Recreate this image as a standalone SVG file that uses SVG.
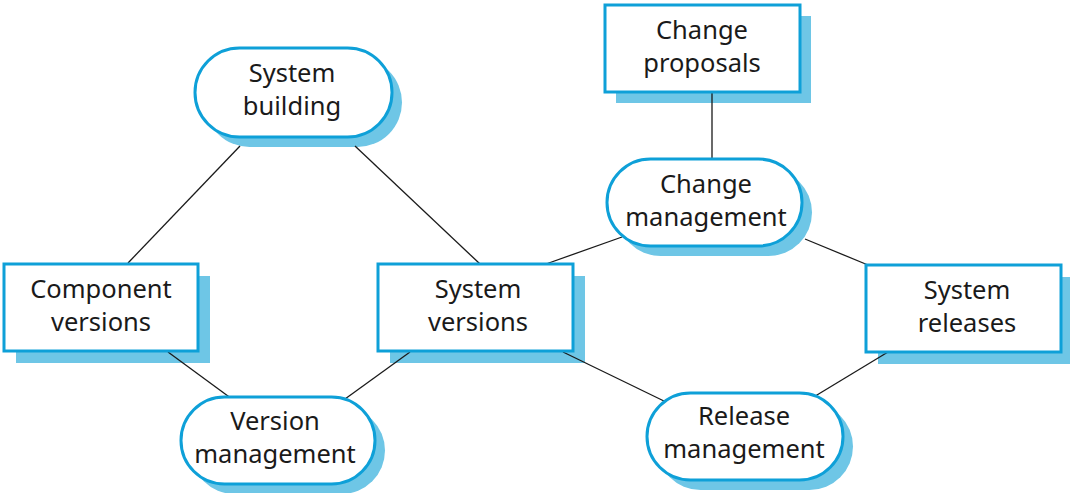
<svg xmlns="http://www.w3.org/2000/svg" width="1070" height="493" viewBox="0 0 1070 493">
<style>
.sh{fill:#6ec6e6}
.bx{fill:#fff;stroke:#0ea0d8;stroke-width:3}
.t{font-family:"Noto Sans","Open Sans",sans-serif;font-size:25.5px;fill:#1a1a1a;text-anchor:middle}
.c line{stroke:#1a1a1a;stroke-width:1.3}
</style>
<rect width="1070" height="493" fill="#fff"/>
<g id="shadows">
<rect class="sh" x="205" y="58" width="197" height="89" rx="44.5"/>
<rect class="sh" x="616" y="16" width="195" height="87"/>
<rect class="sh" x="617" y="169" width="195" height="87" rx="43.5"/>
<rect class="sh" x="16" y="276" width="194" height="87"/>
<rect class="sh" x="390" y="276" width="195" height="87"/>
<rect class="sh" x="878" y="277" width="195" height="87"/>
<rect class="sh" x="191" y="407" width="194" height="87" rx="43.5"/>
<rect class="sh" x="657" y="403" width="196" height="87" rx="43.5"/>
</g>
<g class="c" id="connectors">
<line x1="240" y1="146" x2="128" y2="263"/>
<line x1="355" y1="146" x2="480" y2="264"/>
<line x1="712" y1="93" x2="712" y2="158"/>
<line x1="622" y1="237" x2="546" y2="264"/>
<line x1="805" y1="239" x2="868" y2="265"/>
<line x1="168" y1="352" x2="232" y2="399"/>
<line x1="410" y1="352" x2="345" y2="399"/>
<line x1="563" y1="352" x2="666" y2="402"/>
<line x1="888" y1="352" x2="812" y2="398"/>
</g>
<g id="system-building">
<rect class="bx" x="195" y="48" width="197" height="89" rx="44.5"/>
<text class="t" x="292" y="82">System</text>
<text class="t" x="292" y="115">building</text>
</g>
<g id="change-proposals">
<rect class="bx" x="605" y="5" width="195" height="87"/>
<text class="t" x="702" y="39">Change</text>
<text class="t" x="702" y="72">proposals</text>
</g>
<g id="change-management">
<rect class="bx" x="607" y="159" width="195" height="87" rx="43.5"/>
<text class="t" x="706" y="193">Change</text>
<text class="t" x="706" y="226">management</text>
</g>
<g id="component-versions">
<rect class="bx" x="4" y="264" width="194" height="87"/>
<text class="t" x="101" y="298">Component</text>
<text class="t" x="101" y="331">versions</text>
</g>
<g id="system-versions">
<rect class="bx" x="378" y="264" width="195" height="87"/>
<text class="t" x="478" y="298">System</text>
<text class="t" x="478" y="331">versions</text>
</g>
<g id="system-releases">
<rect class="bx" x="866" y="265" width="195" height="87"/>
<text class="t" x="967" y="299">System</text>
<text class="t" x="967" y="332">releases</text>
</g>
<g id="version-management">
<rect class="bx" x="181" y="397" width="194" height="87" rx="43.5"/>
<text class="t" x="275" y="430">Version</text>
<text class="t" x="275" y="463">management</text>
</g>
<g id="release-management">
<rect class="bx" x="647" y="393" width="196" height="87" rx="43.5"/>
<text class="t" x="744" y="425">Release</text>
<text class="t" x="744" y="458">management</text>
</g>
</svg>
